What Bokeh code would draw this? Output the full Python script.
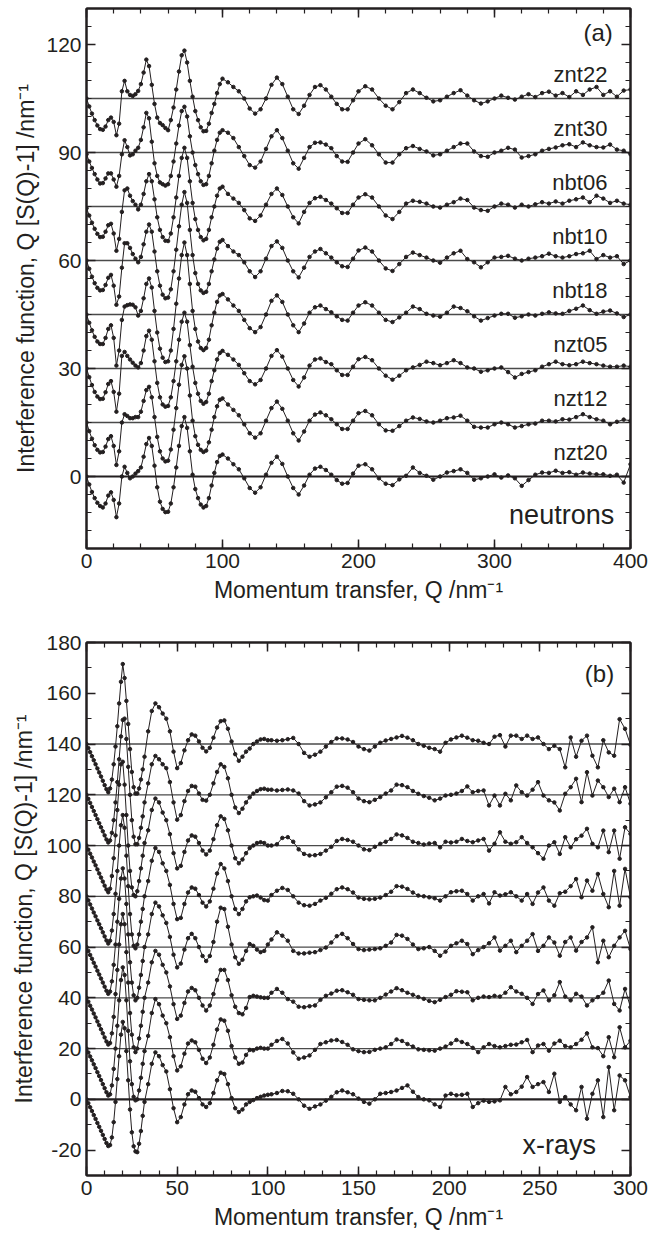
from bokeh.plotting import figure
from bokeh.models import FixedTicker, LinearAxis, Span, Label, Range1d
from bokeh.layouts import column
from bokeh.embed import file_html
from bokeh.resources import INLINE

FONT = "Liberation Sans"
INK = "#231f20"

# ---------------- panel (a): neutrons ----------------
q_neutron = list(range(0, 101, 2)) + list(range(104, 201, 4)) + list(range(205, 401, 5))
neutron_names = ["znt22", "znt30", "nbt06", "nbt10", "nbt18", "nzt05", "nzt12", "nzt20"]
neutron_offsets = [105, 90, 75, 60, 45, 30, 15, 0]

znt22 = [0, -2.2, -4.2, -6, -7.5, -8.5, -8.7, -7.8, -6, -5.3, -6.5, -10.2, -7, 2, 4.9, 2, 1, 0.7, 1.2, 2.1,
         4, 7.2, 10.8, 9, 3.8, -1.5, -5.3, -6.8, -7.4, -8.2, -8.8, -6, -2.5, 2.5, 7.5, 12, 13.3, 10, 4.9, 0.5,
         -3.5, -6, -8, -9.1, -9, -7, -4, -1.5, 1.5, 4, 5.5,
         4.5, 3.2, 2, 0, -2.8, -4.2, -3, 0, 3.8, 5.8, 4, 0.5, -3, -4.3, -2, 1, 3.2, 3.7, 2.5, 0.5, -1.5, -3, -3, -0.5, 2,
         3.4, 2.5, 0, -2, -3, -1, 1.5, 2.5, 1.5, 0.2, -0.8, -0.5, 0.5, 1.5, 2.3, 0.8, -0.5, -1.4, -0.8, 0,
         0.8, 0.2, -0.3, 0.5, 1.2, 0.4, 1.5, 1.9, 0.8, 1.5, 0.4, 2, 1, 2.5, 3.2, 1, 2, 0.5, 2.2, 2.5]
znt30 = [-0.5, -2.5, -4.3, -6, -7.5, -8.6, -8.5, -7.2, -5.8, -5.8, -7.5, -9.5, -6.5, -0.5, 3.4, 1.5, -0.8, -0.5, 0.5, 1.3,
         3.5, 7, 11, 9.5, 3, -3, -6.5, -8.3, -8.8, -9.2, -8.8, -6.5, -2.5, 2.5, 7.5, 11.5, 12.7, 10, 4.5, 0,
         -3.5, -6, -8, -9, -8.8, -6.5, -3, 0.5, 3.5, 5.5, 6.2,
         5.5, 4, 1.5, -1, -3.5, -4.2, -2.5, 1, 4.5, 6.2, 4, 0.5, -3, -4.5, -1.5, 1.5, 2.7, 2.8, 2.2, 1.2, -1, -2.5, -2.6, 0, 2.5,
         3.7, 2, -0.5, -2.8, -2.8, -0.5, 1.2, 1.8, 1, 0.3, -0.8, -0.5, 0.5, 1.5, 2.5, 2.5, 0.3, -1, -1.2, 0,
         0.5, 1.3, 0.8, -1.4, -1, -0.5, 0.5, 1, 1.4, 2, 2.3, 1.5, 2.8, 2, 1.5, 1.4, 2.2, 0.8, 0.5, -0.5]
nbt06 = [-0.5, -2.5, -4.5, -6.2, -7.6, -8.5, -8.4, -7, -5.2, -4.8, -7.5, -12.3, -9, -1.5, 4.5, 5, 3, 1.5, 0.5, -0.8,
         0.5, 3.5, 7, 9, 7, 2, -3, -6.5, -8.5, -9.5, -9.6, -7.5, -3, 2.5, 8.5, 13.5, 16.3, 13.5, 7, 1,
         -3.5, -6.5, -8.5, -9.4, -9, -6.5, -3, 0, 3, 5, 5.5,
         3.5, 2.2, 1, -1, -3.3, -4, -2.5, 0.5, 3.5, 5, 3.2, 0, -3, -4.7, -1.5, 1, 2.3, 2.7, 1.8, 0.8, -0.5, -1.8, -1.8, 0.5, 2.5,
         3.4, 2.5, 0, -2.5, -3.5, -1.5, 0.8, 1.6, 1.3, 0.8, 0, -0.3, 0.5, 1.2, 2.2, 1.8, -0.3, -1, -1.2, 0,
         0.8, 0.5, -0.3, 0.5, 0, 0.6, 1.2, 0.8, 1.4, 0.8, 1.6, 2, 2.5, 1.2, 3, 2.2, 1, 1.6, 0.8, 0.5]
nbt10 = [0, -2.3, -4.5, -6.3, -7.6, -8.3, -8.2, -6.8, -4.8, -4, -7, -12.3, -10, -2, 4.8, 4.8, 3.5, 1.8, 0.5, -0.5,
         1, 4.5, 8, 10, 8, 2.5, -3, -7, -9.5, -10.5, -10.3, -8, -3, 3, 9.5, 15.5, 19, 16, 8.5, 1.5,
         -3.5, -6.5, -8.3, -9, -8.7, -6.5, -3, 0.3, 3.3, 5.2, 5.7,
         4, 2.5, 1.5, -0.5, -3, -4.6, -3, 0.5, 4, 5.3, 3.5, 0, -3, -4.7, -2, 1, 2.5, 3.2, 2, 0.8, -0.5, -1.6, -1.8, 0.5, 2.8,
         3.6, 2.5, 0, -2.2, -2.9, -1, 1, 2.2, 1.5, 0.8, 0, -0.6, 0.8, 2, 2.7, 0.4, -0.5, -1.9, -0.5, 0.8,
         1, 1.3, 0.5, 0, 0.5, 0.8, 1.2, 1.9, 1.2, 0.8, 1.2, 1.8, 2, 2.7, 0.4, 1.5, 0.8, 1.2, -1, 0]
nbt18 = [0, -2.3, -4.4, -6.2, -7.5, -8.2, -8.2, -6.5, -4, -3, -6.5, -14.2, -10, -1.5, 2.2, 2.6, 2.8, 2.7, 2, -0.3,
         1, 4.5, 8.5, 10, 7.5, 1, -5, -9.5, -12, -13.2, -13, -10, -4, 3, 10, 16.5, 20, 16.5, 8.5, 1,
         -4, -7.5, -9.3, -9.9, -9.3, -7, -3, 0.5, 3.5, 5.3, 5.7,
         4.2, 2.5, 1, -1.5, -3.8, -4.9, -3.5, 0, 3.8, 5.3, 3.5, 0, -3, -4.9, -2.5, 0.5, 2, 2.5, 1.5, 0.6, -0.5, -1.5, -1.7, 0.5, 2.5,
         3.4, 2.5, 0.5, -1.5, -2.1, -0.8, 0.5, 2.2, 1.5, 0.2, -0.3, -0.6, 0.5, 2.2, 1.8, 0.9, -0.5, -1.7, -1, -0.3,
         0.2, 0.2, -0.9, -0.5, 0, -0.3, 0.2, 0.6, 0.3, 0.2, 1, 1.6, 2.5, 1.2, 0.2, 0.8, 1.1, 0.3, -0.7, 0]
nzt05 = [0, -2.4, -4.6, -6.5, -7.8, -8.5, -8.4, -6.6, -4.3, -3.5, -6.5, -12, -7, 3.5, 4.6, 3.5, 2.5, 1.6, 0.8, 0.3,
         1.5, 5, 9, 10.5, 8, 2, -4, -8, -10, -10.6, -10.4, -8, -3.5, 2, 8, 13, 15.5, 13, 6.5, 0.5,
         -4, -7, -9, -9.8, -9.3, -7, -3.5, -0.5, 2.5, 4.3, 4.9,
         3.8, 2.5, 1, -1.3, -3.5, -4.4, -3.2, 0, 3.5, 5.1, 3.3, 0, -3.2, -5, -2.5, 0.8, 2.5, 2.8, 1.8, 1.2, -0.5, -1.8, -1.8, 0.5, 2.6,
         3.2, 2.3, 0, -2, -3.1, -2, -0.5, 0.3, 1, 1.9, 1.5, 0.9, 1.5, 2.3, 1.5, 0.3, 0, -0.9, -0.5, 0,
         0.3, -1, -2.5, -1.5, -1, -0.5, 0.5, 1.2, 1.9, 1.2, 0.9, 1.2, 1.9, 1.5, 1.2, 0.8, 0.5, 0.5, 0.8, 0.5]
nzt12 = [0, -2.4, -4.5, -6.3, -7.6, -8.3, -8.2, -6.7, -4.6, -3.8, -6.5, -11.8, -8, 0, 2.3, 1.8, 1.2, 1.2, 1.5, 1.5,
         3, 6, 9, 9.9, 7, 1.5, -4, -8, -10, -10.8, -10.6, -7.5, -2, 4, 10.5, 16, 18.4, 15, 7.5, 0.5,
         -3.8, -6.2, -7.6, -8.2, -7.8, -5.5, -2, 1.5, 4.5, 6.3, 6.7,
         5, 3.5, 2, -0.5, -3, -4.2, -3, 0.5, 4, 5.8, 3.8, 0.5, -3, -5, -2.5, 0.5, 2.2, 2.8, 2, 0.9, -0.5, -1.8, -1.8, 0.5, 2.6,
         3.2, 2, -0.5, -2.2, -2.3, -1, 0.5, 1.4, 1, 0.3, 0, 0.5, 1.2, 1.4, 1.9, 0.5, -1.2, -1.4, -1.4, -0.5,
         0, -0.5, -1.4, -1, -0.5, -0.3, 0.5, 0.5, 0.3, 0.9, 0.8, 1.5, 2.3, 1.5, 0.9, 0.5, -0.5, 0.2, 0.8, 0.5]
nzt20 = [0, -2.2, -4.3, -6, -7.3, -8.2, -8.6, -7.5, -5.3, -4.4, -6.5, -11.3, -7.5, 0, 2.7, 1, -0.5, 0, 0.8, 1.5,
         2.5, 5.5, 9, 10.7, 8.5, 3, -3, -7, -9, -9.9, -9.8, -7.5, -3, 2.5, 8.5, 14, 16.5, 13.5, 7, 0.5,
         -3.5, -6, -7.8, -8.6, -8.2, -6, -2.5, 1, 4, 5.7, 6.1,
         5, 3.4, 2, -0.5, -3.2, -4.5, -3, 0.5, 3.8, 5.5, 3.5, 0, -3.2, -5, -2.5, 0.5, 2.2, 2.7, 1.8, 0.5, -1, -2, -1.8, 0.8, 3,
         3.4, 2, -0.5, -2, -2.4, -0.8, 0.2, 2.5, 1, 0.2, -0.9, 0, 1.1, 1.5, 2, 1, -0.9, -0.5, 0, 0.6,
         -0.3, 0.3, -0.5, -2.6, -1, 0.5, 1.1, 1, 1.6, 1, 1.2, 0.5, 1.1, 0.8, 0.6, 0.6, 0.2, 0.5, -1.7, 3.4]
neutron_series = [znt22, znt30, nbt06, nbt10, nbt18, nzt05, nzt12, nzt20]

# ---------------- panel (b): x-rays ----------------
q_xray = list(range(0, 33)) + list(range(34, 101, 2)) + list(range(102, 301, 3))
xray_offsets = [140, 120, 100, 80, 60, 40, 20, 0]

xray_140 = [0, -1.6, -3.2, -4.8, -6.4, -8, -9.6, -11.2, -12.8, -14.5, -16.2, -17.8, -19, -17.5, -14, -8, -1, 7, 16, 24.5,
            31.5, 26, 17, 7.9, -2, -11, -17, -19.5, -19.5, -17.5, -14, -10, -5,
            5, 13, 16, 14.5, 12, 10, 5, -3, -9.5, -7.5, -2.5, 1.5, 3.8, 3.3, 1, -1.5, -2.9, -1.5, 2.5, 6.5,
            9, 9.3, 6, 1, -4, -6.6, -5, -3, -1.8, 0, 1, 1.8, 2, 1.5,
            1.5, 1.3, 1.5, 1.9, 2.4, 0, -3.5, -5, -4.2, -3, -1, 0.8, 2.2, 2.2, 1.8, 0.8, -1, -2, -2.6, -1,
            0.5, 1.4, 2, 2.6, 3.2, 2.5, 1.5, 0, -0.7, -1.5, -2, -3, 0.5, 1.8, 2.6, 3.3, 2.5, 1.5, 1.3, 0.5,
            0, 2.9, 3.5, -1, 3.3, 3.3, 2, 3.3, 2, 2.6, 0, -2, -0.7, -2, -9.2, 2.6, -5, 1.3, 3.3, -4.6,
            -9.2, 1.5, -3.3, -4.6, 9.8, 6, -0.3]
xray_120 = [0, -1.6, -3.2, -4.8, -6.4, -8, -9.6, -11.2, -12.8, -14.4, -16, -17.6, -18.8, -18, -15, -10, -3, 5, 14, 23,
            29.5, 30, 22, 11, 0, -10, -16.5, -19.5, -19.5, -17, -13, -8.5, -3,
            4.5, 12, 15.3, 14, 12, 10.5, 5, -3, -9.8, -8, -2.5, 1.5, 3.5, 3.2, 0.5, -2, -2.3, 0, 4.5, 9,
            12, 11, 6.5, 0, -5, -7.2, -5.5, -3, -1, 0.5, 1.5, 2.2, 2.4, 2,
            2, 1.7, 1.9, 2.1, 1.7, 0.5, -2.5, -4.2, -3.8, -3, -1, 1, 3.2, 3.5, 2.8, 1, -1.5, -2.5, -2.9, -2,
            -0.9, 0.5, 1.7, 4, 3.8, 3, 1.5, 0.4, -0.5, -1.2, -2.2, -1.5, -0.3, 0, 0.5, 1.5, 3.3, 1, 1.5, 1.7,
            -4.2, -0.3, -4.2, 0.4, -2.2, 3.7, 1, -0.3, 2, 5, -0.3, -2.2, -3, -6.2, 0.4, 3, 6.3, -2.9, 8.9, -0.3,
            5.6, 3, -0.9, 2.4, -2.9, 3, -3.5]
xray_100 = [0, -1.6, -3.2, -4.7, -6.3, -7.8, -9.4, -11, -12.6, -14.2, -15.8, -17.3, -18.4, -17, -12, -5, 4, 14, 24, 32,
            33, 24, 12, 0, -10, -16.5, -19.5, -20, -18, -14, -9, -4, 1,
            6, 14, 18.5, 17, 13, 10, 4.5, -3, -9, -8, -2.5, 2, 4, 3.5, 1, -2, -3.5, -2, 2.5, 8,
            11.5, 10.5, 6, 0, -5, -7, -5.5, -3, -1, 0, 1, 1.3, 1, 0,
            0, 0.5, 3, 3.3, 1.5, -1.5, -3.3, -3.9, -3.8, -3.3, -2, -0.5, 1.8, 2.6, 2.2, 1.5, 0, -1.5, -1.8, -0.5,
            0.7, 1.5, 2.6, 4.4, 4, 3, 1.5, 1, 0.4, 0.8, 1, -0.7, 1.5, 1.2, 1.5, 2.6, 1.8, 1.3, 2, 2.6,
            -2, 0.7, 5.2, 1.5, 0.7, 1.3, 3.3, 1, -0.7, -3, -5.2, 0, 1.3, -3.3, 3.3, -0.7, 2.5, 3.9, 6.6, 0.7,
            -0.7, 5.9, -2.6, 5.9, -5.2, 7.2, 4.6]
xray_80 = [0, -1.6, -3.2, -4.8, -6.4, -7.9, -9.5, -11, -12.6, -14.2, -15.8, -17.4, -18.6, -17.5, -13.5, -7, 1, 10, 20, 28,
           32, 27, 16, 4, -7, -15, -19.5, -20.5, -19, -15, -10, -5, 0,
           6, 14, 19, 17.5, 13, 10, 4.5, -3, -9, -8.5, -3, 1.5, 3.5, 3, 0.5, -2.5, -4, -2, 3, 9,
           12.7, 11, 6, 0, -5, -7, -5, -2, -0.4, 0, 0.3, -0.5, -1.5, -1.7,
           0.5, 2.2, 3.3, 2.5, 0, -2.5, -3.5, -3.7, -3, -1.7, -0.6, 1, 2.8, 3.5, 2.8, 1.5, -0.5, -1, -1.2, -1,
           -0.5, 0.5, 1.8, 4, 3.8, 2.9, 1.5, 0.3, 0, -0.4, -0.8, -1.7, 0, 1.6, 2, 2.2, 0.9, -1.7, 0, 0.9,
           -2.8, 1.6, 0.3, 0.8, 1.6, 0, -1.7, 0.9, -3, 1.5, 3.5, -1.7, -3.7, 1.2, 1.8, 4, 6.8, -0.4, 6.2, 2.2,
           8.8, 0.9, -4.3, 10, -3.7, 10.8, -0.4]
xray_60 = [0, -1.5, -3.1, -4.6, -6.2, -7.7, -9.3, -10.8, -12.4, -14, -15.6, -17.2, -18.4, -17.5, -13.5, -7, 1, 10, 19, 27,
           31, 27, 17, 5, -6, -14, -19, -21, -20, -16, -11, -5.5, 0,
           5, 13, 17.5, 16, 12.5, 9.5, 4, -3, -8, -6.5, -1, 3.5, 5.2, 3.5, 0, -3.5, -5.5, -3.5, 2, 10,
           15.5, 15, 8, 1, -4, -6.6, -5, -1.5, 1.2, 0.5, -1, -2, -1.5, 1,
           3, 5.8, 4.5, 2.5, -1.5, -2.5, -2.5, -2.2, -2, -1.2, -0.2, 1.8, 4.3, 5.2, 3.5, 1.2, -0.8, -1.2, -1, -0.8,
           -0.5, 0.5, 1.8, 4.8, 4.5, 3.2, 1, -0.8, -0.5, 0, -1.5, -3.4, -1.8, 0.5, 1.5, 2.5, 1.2, -2.8, -1.2, 0,
           1.5, 3.8, -1.4, 0.5, 2.5, -2, 0.5, 2.5, 5.1, -1.5, 0.5, 3.8, 1.8, -3.4, 2, 3.8, -1.4, 2, 3.8, 7.8,
           -6, 2.5, -4, 0.5, 3.8, 6.4, -0.8]
xray_40 = [0, -1.5, -3.1, -4.6, -6.2, -7.7, -9.3, -10.8, -12.4, -14, -15.6, -17.2, -18.4, -17.8, -14, -7.5, 1.5, 11, 21, 29,
           33, 29, 18, 6, -6, -14.5, -19.5, -21.4, -20, -16, -11, -5.5, 0,
           6, 14, 18.5, 17, 13, 10, 4.5, -2.5, -8.3, -7, -2, 2.5, 3.9, 3, 0, -3, -5, -3, 1.5, 7,
           11, 11, 7, 1, -3.5, -6, -6.5, -4, 0.3, 0.8, 0.5, 0.2, 0, 0,
           2, 3.5, 2, -0.5, -1.5, -3.5, -3.7, -3.3, -3, -0.8, 0.8, 1.7, 2.8, 3, 2.2, 1.2, -0.5, -0.8, -1, -1,
           0, 1.3, 2.5, 3.8, 3, 2, 1.2, 0.3, -0.4, -1.2, -1.7, -0.8, 0.3, 1.2, 2.6, 2.4, 2.2, -1, 0, 0.5,
           0.3, 0.8, 0.5, 2, 4.2, 2.5, 1.6, 0, -2.4, 1.5, 2.9, -1, 1, 6.2, 0.5, -1, 1.6, 0.5, -3, -1,
           0.3, 2, 6.8, -2.4, -5, 3.5, -3.7]
xray_20 = [0, -1.5, -3.1, -4.6, -6.2, -7.7, -9.3, -10.8, -12.4, -14, -15.6, -17.2, -18.5, -18, -14.5, -8, 0, 9, 19, 27,
           32, 29, 19, 7, -5, -14, -19, -20.4, -20, -16.5, -11.5, -6, -1,
           5, 14, 19.5, 17.5, 13, 10, 4.5, -3, -8.6, -7, -2, 2, 3.2, 2.5, -0.5, -4, -5.7, -3.5, 1.5, 7.5,
           11.5, 11, 7, 1, -3.5, -6, -5.5, -2.5, -0.5, -0.7, 0, 0.3, 0, 0,
           1.5, 3, 3.8, 2, -1.5, -4, -3.5, -2.7, -0.5, 1.8, 2.5, 3.2, 3.4, 2.6, 1.5, -0.3, -1, -1.4, -1.3, -0.5,
           0, 0.5, 1.8, 3.6, 3, 1.8, 0.8, -0.3, -0.5, -0.7, -0.8, 0, 0.8, 2, 3.4, 2.6, 1.8, 0.3, -1.4, 0.5,
           1.8, 1, 0.5, 1, 1.5, 1.6, 2.5, 3.4, -1.4, 1.2, 1.8, -0.8, 2, 3.1, 1, 0.5, 1.8, 3.5, 6, 0.5,
           0.2, -3, 4.5, -3.4, 8.4, 0.5, 3.1]
xray_0 = [0, -1.5, -3.1, -4.6, -6.2, -7.7, -9.3, -10.8, -12.4, -14, -15.6, -17.2, -18.4, -18, -15, -9, -1, 8, 17, 25.5,
          30.5, 28, 19, 7.5, -4, -13, -18.5, -20.5, -20.8, -17.5, -12.5, -6.5, -1,
          6, 14, 18.5, 17, 13.5, 11, 4, -3.5, -9, -7, -2, 2, 3.5, 3, 0.5, -2, -3, -1.5, 2.5, 7.5,
          10.5, 10, 6, 0.5, -3.5, -5, -4, -2, -1, -0.3, 0.5, 1, 1.5, 1.8,
          2, 2.5, 3.3, 3.2, 2.2, 0, -2.5, -3.7, -2.8, -2, -0.5, 1, 2.8, 3.5, 2.8, 2, 0.3, -1, -1.7, 0,
          2.2, 2.5, 2.9, 3.5, 4.5, 5.5, 3, 0.9, 0, -0.4, -2, -3, 1.5, 2.2, 1.6, 1.8, 2.2, -3, -1.5, -0.5,
          -1, -0.8, -0.4, 4.9, 2, 2.9, 5, 8.8, 4.9, 6, 6.8, 2.9, 10.1, -1, 0.9, -2, -4.3, 4.9, -7.6, 2.2,
          7.5, -7, 12.7, -4.3, 9.4, 7.5, 0.9]
xray_series = [xray_140, xray_120, xray_100, xray_80, xray_60, xray_40, xray_20, xray_0]

# ---------------- axes ----------------
a_x_major = [0, 100, 200, 300, 400]
a_x_minor = list(range(0, 401, 20))
a_y_major = [0, 30, 60, 90, 120]
a_y_minor = list(range(-20, 131, 5))
b_x_major = [0, 50, 100, 150, 200, 250, 300]
b_x_minor = list(range(0, 301, 10))
b_y_major = [-20, 0, 20, 40, 60, 80, 100, 120, 140, 160, 180]
b_y_minor = list(range(-30, 181, 10))

X_LABEL = "Momentum transfer, Q /nm\u207b\u00b9"
Y_LABEL = "Interference function, Q [S(Q)-1] /nm\u207b\u00b9"


def style_axis(ax, show_labels):
    ax.axis_line_color = INK
    ax.axis_line_width = 2
    ax.major_tick_in = 9
    ax.major_tick_out = 0
    ax.minor_tick_in = 5
    ax.minor_tick_out = 0
    ax.major_tick_line_color = INK
    ax.minor_tick_line_color = INK
    ax.major_tick_line_width = 1.5
    ax.minor_tick_line_width = 1.2
    if show_labels:
        ax.major_label_text_font = FONT
        ax.major_label_text_font_size = "21px"
        ax.major_label_text_color = INK
        ax.major_label_standoff = 5
        ax.axis_label_text_font = FONT
        ax.axis_label_text_font_size = "23px"
        ax.axis_label_text_font_style = "normal"
        ax.axis_label_text_color = INK
    else:
        ax.major_label_text_font_size = "1px"
        ax.major_label_text_color = None
        ax.major_label_standoff = 0


def make_panel(width, height, xr, yr, borders, xt, yt, ylab_standoff, xlab_standoff):
    p = figure(width=width, height=height, x_range=Range1d(*xr), y_range=Range1d(*yr),
               output_backend="svg", toolbar_location=None,
               min_border_left=borders[0], min_border_right=borders[1],
               min_border_top=borders[2], min_border_bottom=borders[3])
    p.grid.visible = False
    p.outline_line_color = INK
    p.outline_line_width = 2
    p.background_fill_color = "white"
    p.border_fill_color = "white"
    p.xaxis.ticker = FixedTicker(ticks=xt[0], minor_ticks=xt[1])
    p.yaxis.ticker = FixedTicker(ticks=yt[0], minor_ticks=yt[1])
    p.yaxis.major_label_overrides = {t: str(t) for t in yt[0]}
    p.xaxis.axis_label = X_LABEL
    p.yaxis.axis_label = Y_LABEL
    style_axis(p.xaxis[0], True)
    style_axis(p.yaxis[0], True)
    p.xaxis[0].axis_label_standoff = xlab_standoff
    p.yaxis[0].axis_label_standoff = ylab_standoff
    top = LinearAxis(ticker=FixedTicker(ticks=xt[0], minor_ticks=xt[1]))
    style_axis(top, False)
    p.add_layout(top, "above")
    right = LinearAxis(ticker=FixedTicker(ticks=yt[0], minor_ticks=yt[1]))
    style_axis(right, False)
    p.add_layout(right, "right")
    return p


def draw_series(p, q, series, offsets):
    for vals, off in zip(series, offsets):
        if off == 0:
            p.add_layout(Span(location=off, dimension="width", line_color=INK, line_width=2.2, level="underlay"))
        else:
            p.add_layout(Span(location=off, dimension="width", line_color="#4a4a4a", line_width=1.3, level="underlay"))
        ys = [v + off for v in vals]
        p.line(q, ys, line_color=INK, line_width=1)
        p.scatter(q, ys, size=3.5, fill_color=INK, line_color=INK)


def add_text(p, x, y, text, size):
    p.add_layout(Label(x=x, y=y, text=text, text_align="right", text_baseline="middle",
                       text_font=FONT, text_font_size=size, text_color=INK))


# panel (a)
pa = make_panel(649, 620, (0, 400), (-20, 130), (78, 19, 8, 72),
                (a_x_major, a_x_minor), (a_y_major, a_y_minor), 4, 6)
draw_series(pa, q_neutron, neutron_series, neutron_offsets)
for name, off in zip(neutron_names, neutron_offsets):
    add_text(pa, 383, off + 6.8, name, "22px")
add_text(pa, 387, 123.2, "(a)", "24px")
add_text(pa, 388, -10.6, "neutrons", "27px")

# panel (b)
pb = make_panel(649, 618, (0, 300), (-30, 180), (86, 19, 22, 63),
                (b_x_major, b_x_minor), (b_y_major, b_y_minor), 6, 6)
draw_series(pb, q_xray, xray_series, xray_offsets)
add_text(pb, 291, 167.7, "(b)", "24px")
add_text(pb, 281, -18, "x-rays", "27px")

layout = column(pa, pb, spacing=0)
open("out.html", "w").write(file_html(layout, INLINE))
